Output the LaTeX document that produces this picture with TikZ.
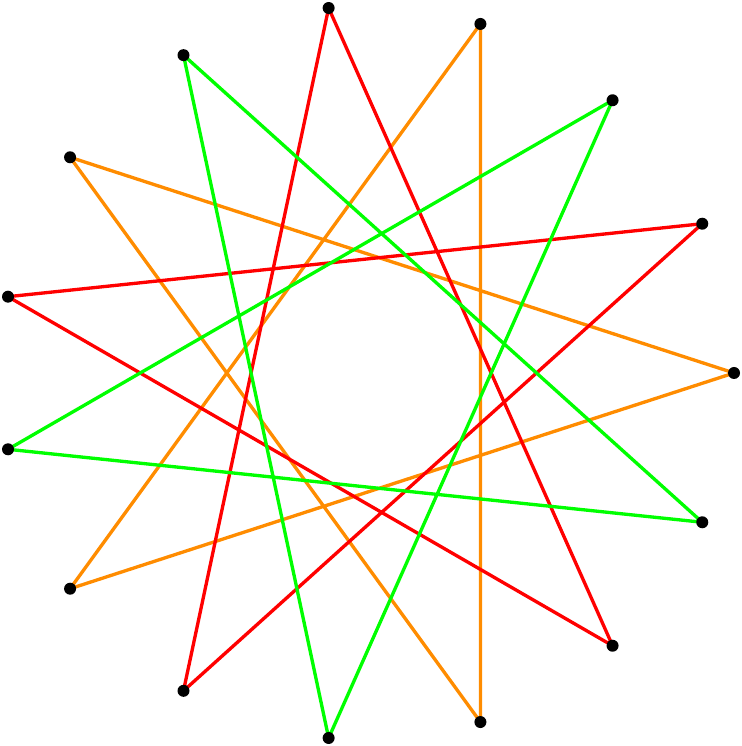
\documentclass[tikz,border=0pt]{standalone}
\definecolor{starred}{RGB}{255,0,0}
\definecolor{starorange}{RGB}{255,140,0}
\definecolor{stargreen}{RGB}{0,255,0}
\tikzset{edge/.style={line width=1.9pt,line join=miter}}
\begin{document}
\begin{tikzpicture}[x=0.02cm,y=0.02cm]
\useasboundingbox (0,0) rectangle (741,746);

% 15 points on the circle, 24 degrees apart
\begin{scope}[shift={(367,373)}]
\coordinate (p0) at (0:367);
\coordinate (p1) at (24:367);
\coordinate (p2) at (48:367);
\coordinate (p3) at (72:367);
\coordinate (p4) at (96:367);
\coordinate (p5) at (120:367);
\coordinate (p6) at (144:367);
\coordinate (p7) at (168:367);
\coordinate (p8) at (192:367);
\coordinate (p9) at (216:367);
\coordinate (p10) at (240:367);
\coordinate (p11) at (264:367);
\coordinate (p12) at (288:367);
\coordinate (p13) at (312:367);
\coordinate (p14) at (336:367);
\end{scope}

% three pentagrams
\draw[edge,starorange] (p3)--(p12)--(p6)--(p0)--(p9)--cycle;
\draw[edge,starred] (p4)--(p13)--(p7)--(p1)--(p10)--cycle;
\draw[edge,stargreen] (p5)--(p14)--(p8)--(p2)--(p11)--cycle;

\foreach \i in {0,...,14}
  \fill (p\i) circle (6);
\end{tikzpicture}
\end{document}
